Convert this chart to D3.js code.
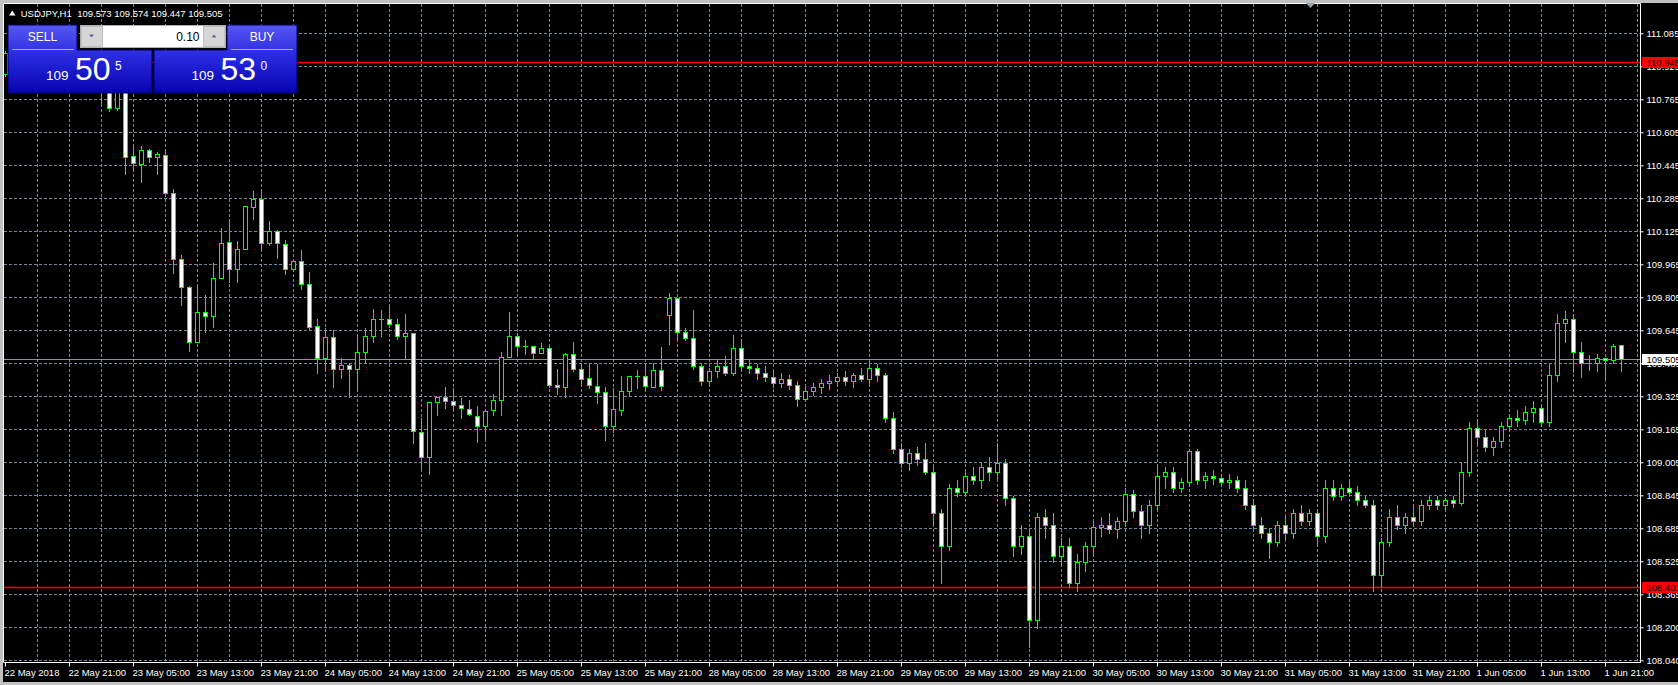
<!DOCTYPE html>
<html><head><meta charset="utf-8">
<script src="https://cdn.jsdelivr.net/npm/d3@7"></script>
<style>
html,body{margin:0;padding:0;background:#c0c0c0;overflow:hidden;}
svg{display:block;}
text{font-family:"Liberation Sans",Arial,sans-serif;}
</style></head><body>
<svg id="c" width="1678" height="685"></svg>
<script>
// ---------- DATA ----------
const openP = [110.890,110.900,110.930,110.950,111.000,110.980,110.940,110.920,110.950,110.930,110.880,110.860,110.840,110.810,110.724,110.800,
110.488,110.453,110.518,110.484,110.497,110.309,109.989,109.853,109.590,109.732,109.716,109.897,110.071,109.941,110.037,110.244,110.280,110.067,110.125,110.062,109.941,
109.979,109.868,109.666,109.512,109.611,109.456,109.475,109.456,109.538,109.616,109.698,109.698,109.674,109.616,109.630,109.150,109.029,109.296,109.320,109.301,109.281,109.262,109.228,109.183,109.257,109.305,109.514,109.616,109.567,109.567,109.533,109.557,109.378,109.369,109.529,109.456,109.412,109.373,109.344,109.179,109.257,109.349,109.422,109.422,109.369,109.451,
109.718,109.800,109.635,109.606,
109.470,109.400,109.450,109.470,109.440,109.560,109.470,109.460,109.440,109.420,109.390,109.410,109.380,109.310,109.350,109.370,109.390,109.400,109.420,109.400,109.430,109.410,109.460,
109.430,109.220,109.070,109.000,109.050,109.020,108.960,108.760,108.600,108.880,108.860,108.940,108.920,108.980,108.960,109.000,108.830,108.600,108.650,108.240,108.740,108.700,108.550,108.600,108.420,108.520,108.600,108.690,108.700,108.680,108.720,108.850,108.770,108.700,108.800,108.940,108.960,108.880,108.910,109.060,108.920,108.940,108.930,108.910,108.920,108.880,108.800,108.700,108.660,108.620,108.700,108.660,108.760,108.720,108.760,108.650,108.880,108.840,108.880,108.860,108.820,108.800,108.460,108.620,108.740,108.700,108.740,108.720,108.800,108.820,108.800,108.820,108.810,108.960,109.170,109.130,109.080,109.110,109.180,109.220,109.210,109.250,109.270,109.200,109.430,109.680,109.700,109.541,109.488,109.485,109.512,109.501,109.573];
const highP = [111.000,110.950,110.980,111.020,111.040,111.010,110.970,110.960,110.980,110.950,110.920,110.900,110.870,110.830,110.820,110.820,
110.539,110.539,110.526,110.508,110.526,110.328,110.008,109.860,109.857,109.816,109.970,110.139,110.175,110.078,110.248,110.320,110.325,110.175,110.131,110.083,109.986,
110.034,109.928,109.700,109.655,109.645,109.509,109.485,109.625,109.655,109.747,109.743,109.763,109.698,109.722,109.630,109.218,109.296,109.320,109.369,109.364,109.315,109.305,109.276,109.252,109.335,109.538,109.732,109.630,109.596,109.567,109.582,109.567,109.456,109.533,109.587,109.485,109.485,109.480,109.369,109.364,109.422,109.422,109.451,109.480,109.485,109.562,
109.824,109.800,109.654,109.742,
109.480,109.460,109.500,109.520,109.620,109.600,109.500,109.480,109.470,109.450,109.440,109.430,109.400,109.370,109.390,109.410,109.430,109.440,109.450,109.440,109.460,109.490,109.480,
109.440,109.250,109.100,109.070,109.080,109.100,108.980,108.780,108.900,108.920,108.960,108.980,109.000,109.030,109.100,109.020,108.840,108.700,108.680,108.760,108.780,108.760,108.640,108.640,108.560,108.620,108.720,108.740,108.760,108.740,108.880,108.870,108.800,108.820,108.990,108.980,108.980,108.930,109.070,109.070,108.960,108.970,108.950,108.950,108.940,108.920,108.820,108.740,108.680,108.720,108.740,108.780,108.800,108.780,108.780,108.920,108.920,108.900,108.920,108.890,108.840,108.820,108.640,108.780,108.800,108.760,108.800,108.820,108.840,108.840,108.830,108.840,109.000,109.200,109.210,109.160,109.130,109.200,109.240,109.260,109.280,109.300,109.290,109.480,109.725,109.740,109.720,109.590,109.525,109.530,109.512,109.579,109.574];
const lowP = [110.880,110.880,110.900,110.930,110.960,110.920,110.900,110.890,110.910,110.860,110.840,110.820,110.748,110.710,110.713,110.404,
110.419,110.366,110.463,110.404,110.309,109.924,109.768,109.546,109.590,109.638,109.663,109.897,109.877,109.881,110.037,110.185,110.039,110.059,109.997,109.918,109.934,
109.847,109.646,109.440,109.464,109.372,109.415,109.323,109.352,109.485,109.590,109.619,109.663,109.601,109.504,109.097,108.976,108.948,109.234,109.270,109.262,109.221,109.233,109.105,109.120,109.233,109.233,109.514,109.528,109.528,109.504,109.533,109.372,109.335,109.320,109.446,109.381,109.364,109.291,109.115,109.150,109.233,109.325,109.364,109.354,109.369,109.354,
109.577,109.604,109.596,109.456,
109.380,109.380,109.420,109.430,109.430,109.450,109.440,109.410,109.400,109.370,109.370,109.360,109.280,109.300,109.330,109.340,109.360,109.380,109.380,109.370,109.400,109.390,109.400,
109.200,109.050,108.980,108.970,108.990,108.950,108.710,108.420,108.580,108.840,108.840,108.900,108.880,108.920,108.930,108.800,108.550,108.560,108.110,108.200,108.640,108.520,108.500,108.400,108.380,108.480,108.560,108.650,108.660,108.640,108.700,108.740,108.640,108.660,108.780,108.880,108.860,108.860,108.890,108.900,108.880,108.900,108.890,108.880,108.860,108.780,108.680,108.640,108.540,108.600,108.640,108.640,108.700,108.700,108.600,108.620,108.820,108.820,108.840,108.800,108.790,108.380,108.400,108.600,108.680,108.660,108.700,108.700,108.780,108.780,108.780,108.790,108.800,108.940,109.100,109.060,109.040,109.080,109.160,109.180,109.190,109.200,109.180,109.180,109.400,109.590,109.445,109.420,109.453,109.449,109.412,109.488,109.447];
const closeP = [110.990,110.930,110.950,111.000,110.980,110.940,110.920,110.950,110.930,110.880,110.860,110.840,110.810,110.724,110.800,110.487,
110.454,110.518,110.484,110.498,110.309,109.989,109.857,109.590,109.732,109.716,109.897,110.068,109.944,110.037,110.248,110.282,110.067,110.125,110.067,109.941,109.979,
109.868,109.659,109.512,109.611,109.456,109.475,109.456,109.538,109.616,109.698,109.698,109.674,109.616,109.630,109.155,109.029,109.296,109.320,109.301,109.281,109.267,109.238,109.183,109.252,109.305,109.514,109.616,109.567,109.567,109.533,109.557,109.378,109.372,109.529,109.456,109.407,109.378,109.344,109.179,109.262,109.349,109.422,109.422,109.373,109.451,109.373,
109.800,109.635,109.606,109.470,
109.400,109.450,109.470,109.440,109.560,109.470,109.460,109.440,109.420,109.390,109.410,109.380,109.310,109.350,109.370,109.390,109.400,109.420,109.400,109.430,109.410,109.460,109.430,
109.220,109.070,109.000,109.050,109.020,108.960,108.760,108.600,108.880,108.860,108.940,108.920,108.980,108.960,109.000,108.830,108.600,108.650,108.240,108.740,108.700,108.550,108.600,108.420,108.520,108.600,108.690,108.700,108.680,108.720,108.850,108.770,108.700,108.800,108.940,108.960,108.880,108.910,109.060,108.920,108.940,108.930,108.910,108.920,108.880,108.800,108.700,108.660,108.620,108.700,108.660,108.760,108.720,108.760,108.650,108.880,108.840,108.880,108.860,108.820,108.800,108.460,108.620,108.740,108.700,108.740,108.720,108.800,108.820,108.800,108.820,108.810,108.960,109.170,109.130,109.080,109.110,109.180,109.220,109.210,109.250,109.270,109.200,109.430,109.680,109.700,109.541,109.488,109.488,109.512,109.499,109.569,109.505];

const timeLabels = ["22 May 2018","22 May 21:00","23 May 05:00","23 May 13:00","23 May 21:00","24 May 05:00","24 May 13:00","24 May 21:00","25 May 05:00","25 May 13:00","25 May 21:00","28 May 05:00","28 May 13:00","28 May 21:00","29 May 05:00","29 May 13:00","29 May 21:00","30 May 05:00","30 May 13:00","30 May 21:00","31 May 05:00","31 May 13:00","31 May 21:00","1 Jun 05:00","1 Jun 13:00","1 Jun 21:00"];
const priceTicks = [111.085,110.925,110.765,110.605,110.445,110.285,110.125,109.965,109.805,109.645,109.485,109.325,109.165,109.005,108.845,108.685,108.525,108.365,108.205,108.045];
const priceTickLabels = ["111.085","110.925","110.765","110.605","110.445","110.285","110.125","109.965","109.805","109.645","109.485","109.325","109.165","109.005","108.845","108.685","108.525","108.365","108.200","108.040"];
const levelLines = [110.945, 108.401];
const levelLabels = ["110.945","108.401"];
const bidPrice = 109.505;
const bidLabel = "109.505";
const symbolTitle = "USDJPY,H1";
const titleValues = "109.573 109.574 109.447 109.505";

// ---------- LAYOUT ----------
const W = 1678, H = 685;
const L = 3.5, T = 3.5, R = 1640.5, B = 662.5;
const svg = d3.select("#c");
const nBars = openP.length;

const x = d3.scaleLinear().domain([0, 200]).range([5, 1605]);
const y = d3.scaleLinear().domain([108.045, 111.085]).range([660.3, 33.3]);
const ry = v => Math.round(y(v)) + 0.5;

// background
svg.append("rect").attr("x",0).attr("y",0).attr("width",W).attr("height",H).attr("fill","#c0c0c0");
svg.append("rect").attr("x",3).attr("y",3).attr("width",W-3).attr("height",679).attr("fill","#000");

const defs = svg.append("defs");
defs.append("clipPath").attr("id","plot").append("rect").attr("x",4).attr("y",4).attr("width",R-4).attr("height",B-4);

const grid = svg.append("g").attr("stroke","#778899").attr("stroke-width",1).attr("stroke-dasharray","3,2");
grid.selectAll("line.h").data(priceTicks).join("line").attr("class","h")
  .attr("x1",4).attr("x2",R-1).attr("y1",d=>ry(d)).attr("y2",d=>ry(d));
const vIdx = d3.range(4, 205, 4);
grid.selectAll("line.v").data(vIdx).join("line").attr("class","v")
  .attr("x1",d=>x(d)+0.5).attr("x2",d=>x(d)+0.5).attr("y1",4).attr("y2",B-1);

// level lines
const plot = svg.append("g").attr("clip-path","url(#plot)");
plot.selectAll("line.lvl").data(levelLines).join("line").attr("class","lvl")
  .attr("x1",4).attr("x2",R).attr("y1",d=>Math.round(y(d))+0.5).attr("y2",d=>Math.round(y(d))+0.5)
  .attr("stroke","#ff0000").attr("stroke-width",1.5);
plot.append("line").attr("x1",4).attr("x2",R).attr("y1",ry(bidPrice)).attr("y2",ry(bidPrice))
  .attr("stroke","#8a96a3").attr("stroke-width",1);

// candles
const bars = d3.range(nBars).map(i => ({i, o:openP[i], h:highP[i], l:lowP[i], c:closeP[i]}));
const cg = plot.append("g");
cg.selectAll("line.wick").data(bars).join("line").attr("class","wick")
  .attr("x1",d=>x(d.i)+0.5).attr("x2",d=>x(d.i)+0.5)
  .attr("y1",d=>Math.round(y(d.h))).attr("y2",d=>Math.round(y(d.l))+1)
  .attr("stroke","#00ff00").attr("stroke-width",1);
cg.selectAll("rect.body").data(bars.filter(d=>Math.round(y(d.o))!==Math.round(y(d.c)))).join("rect").attr("class","body")
  .attr("x",d=>x(d.i)-1.5)
  .attr("y",d=>ry(Math.max(d.o,d.c)))
  .attr("width",4)
  .attr("height",d=>Math.round(y(Math.min(d.o,d.c)))-Math.round(y(Math.max(d.o,d.c))))
  .attr("fill",d=>d.c>d.o?"#000":"#fff")
  .attr("stroke","#00ff00").attr("stroke-width",1);
cg.selectAll("line.doji").data(bars.filter(d=>Math.round(y(d.o))===Math.round(y(d.c)))).join("line").attr("class","doji")
  .attr("x1",d=>x(d.i)-2).attr("x2",d=>x(d.i)+3)
  .attr("y1",d=>ry(d.c)).attr("y2",d=>ry(d.c))
  .attr("stroke","#00ff00").attr("stroke-width",1);

// frame
svg.append("path").attr("d",`M${R},${T} H${L} V${B} H${R} Z`).attr("fill","none").attr("stroke","#fff").attr("stroke-width",1);
svg.append("line").attr("x1",R).attr("x2",R).attr("y1",T).attr("y2",B).attr("stroke","#fff");

// right axis
const yAxis = d3.axisRight(y).tickValues(priceTicks).tickFormat((d,i)=>priceTickLabels[i]).tickSize(3).tickPadding(3);
const ya = svg.append("g").attr("transform",`translate(${R},0)`).call(yAxis);
ya.select(".domain").remove();
ya.selectAll(".tick line").attr("stroke","#fff");
ya.selectAll(".tick text").attr("fill","#fff").attr("font-size","9.5px").attr("font-family","Liberation Sans, Arial, sans-serif");

// bottom axis
const xAxis = d3.axisBottom(x).tickValues(d3.range(0, 201, 8)).tickFormat((d,i)=>timeLabels[i]).tickSize(4);
const xa = svg.append("g").attr("transform",`translate(0,${B})`).call(xAxis);
xa.select(".domain").remove();
xa.selectAll(".tick line").attr("stroke","#fff");
xa.selectAll(".tick text").attr("fill","#fff").attr("font-size","9.5px").attr("text-anchor","start")
  .attr("x",-1).attr("y",13.5).attr("dy",0).attr("font-family","Liberation Sans, Arial, sans-serif");

// axis price labels (level + bid)
const lab = svg.append("g");
levelLines.forEach((v,i)=>{
  const yy = y(v);
  lab.append("rect").attr("x",1642).attr("y",Math.round(yy)-5).attr("width",36).attr("height",11).attr("fill","#ff0000");
  lab.append("text").attr("x",1646.5).attr("y",Math.round(yy)+4).attr("font-size","9.5px").attr("fill","#000").text(levelLabels[i]);
});
{
  const yy = y(bidPrice);
  lab.append("rect").attr("x",1642).attr("y",Math.round(yy)-5).attr("width",36).attr("height",11).attr("fill","#fff");
  lab.append("text").attr("x",1646.5).attr("y",Math.round(yy)+4).attr("font-size","9.5px").attr("fill","#000").text(bidLabel);
}

// title
svg.append("path").attr("d","M9,15.5 L15.5,15.5 L12.25,10.5 Z").attr("fill","#fff");
svg.append("text").attr("x",20.7).attr("y",16.5).attr("font-size","9.5px").attr("fill","#fff").text(symbolTitle);
svg.append("text").attr("x",77.3).attr("y",16.5).attr("font-size","9.5px").attr("fill","#fff").text(titleValues);
// small chart-shift marker
svg.append("path").attr("d","M1306,3 L1315,3 L1310.5,8 Z").attr("fill","#9aa4ae");

// ---------- trade panel ----------
const grad = defs.append("linearGradient").attr("id","pg").attr("gradientUnits","userSpaceOnUse")
  .attr("x1",0).attr("y1",25).attr("x2",0).attr("y2",93);
grad.append("stop").attr("offset","0").attr("stop-color","#5858f2");
grad.append("stop").attr("offset","0.45").attr("stop-color","#2a2ae0");
grad.append("stop").attr("offset","1").attr("stop-color","#0404ae");
const panel = svg.append("g");
panel.append("path").attr("d","M8,25 H77 V50 H152 V93 H8 Z").attr("fill","url(#pg)").attr("stroke","#00006a").attr("stroke-width",1);
panel.append("path").attr("d","M227,25 H297 V93 H154 V50 H227 Z").attr("fill","url(#pg)").attr("stroke","#00006a").attr("stroke-width",1);
panel.append("line").attr("x1",12).attr("x2",74).attr("y1",49.5).attr("y2",49.5).attr("stroke","#a8a8ff");
panel.append("line").attr("x1",231).attr("x2",293).attr("y1",49.5).attr("y2",49.5).attr("stroke","#a8a8ff");
panel.append("text").attr("x",42.5).attr("y",40.5).attr("text-anchor","middle").attr("font-size","12px").attr("fill","#fff").text("SELL");
panel.append("text").attr("x",262).attr("y",40.5).attr("text-anchor","middle").attr("font-size","12px").attr("fill","#fff").text("BUY");
// lot box
panel.append("rect").attr("x",80.5).attr("y",25.5).attr("width",145).attr("height",22).attr("fill","#fff").attr("stroke","#b0b0b0");
panel.append("rect").attr("x",81.5).attr("y",26.5).attr("width",21).attr("height",20).attr("fill","#d6d6d6").attr("stroke","#c0c0c0");
panel.append("rect").attr("x",203.5).attr("y",26.5).attr("width",21).attr("height",20).attr("fill","#d6d6d6").attr("stroke","#c0c0c0");
panel.append("path").attr("d","M89,34.5 L94,34.5 L91.5,37.5 Z").attr("fill","#5a6a96");
panel.append("path").attr("d","M211.5,37.5 L216.5,37.5 L214,34.5 Z").attr("fill","#5a6a96");
panel.append("text").attr("x",199.5).attr("y",40.5).attr("text-anchor","end").attr("font-size","12px").attr("fill","#000").text("0.10");
// prices
function priceBlock(x0, big, sup){
  panel.append("text").attr("x",x0).attr("y",80).attr("font-size","13.5px").attr("fill","#fff").text("109");
  panel.append("text").attr("x",x0+29).attr("y",80).attr("font-size","32px").attr("fill","#fff").text(big);
  panel.append("text").attr("x",x0+69).attr("y",70).attr("font-size","12px").attr("fill","#fff").text(sup);
}
priceBlock(46, "50", "5");
priceBlock(191.5, "53", "0");
</script>
</body></html>
